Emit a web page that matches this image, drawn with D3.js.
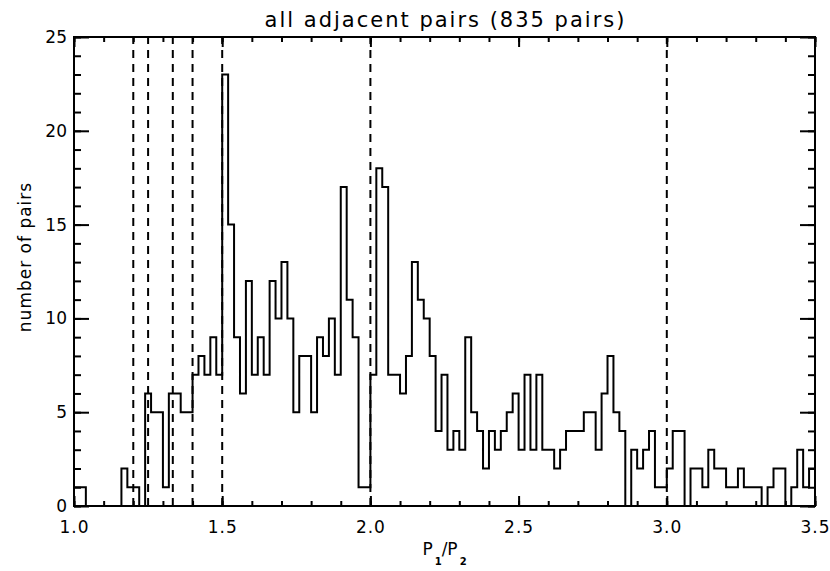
<!DOCTYPE html>
<html>
<head>
<meta charset="utf-8">
<script src="https://cdn.jsdelivr.net/npm/d3@7"></script>
<style>
  body { margin: 0; background: #fff; }
  text { font-family: "DejaVu Sans", sans-serif; fill: #000; }
</style>
</head>
<body>
<script>
// histogram of period ratios, bins of 0.02 starting at 1.0
var binStart = 1.0;
var binWidth = 0.02;
var counts = [
  1, 1, 0, 0, 0, 0, 0, 0, 2, 1, 1, 0, 6, 5, 5, 1, 6, 6, 5, 5, 7, 8, 7, 9, 7,
  23, 15, 9, 6, 12, 7, 9, 7, 12, 10, 13, 10, 5, 8, 8, 5, 9, 8, 10, 7, 17, 11, 9, 1, 1,
  7, 18, 17, 7, 7, 6, 8, 13, 11, 10, 8, 4, 7, 3, 4, 3, 9, 5, 4, 2, 4, 3, 4, 5, 6,
  3, 7, 3, 7, 3, 3, 2, 3, 4, 4, 4, 5, 5, 3, 6, 8, 5, 4, 0, 3, 2, 3, 4, 1, 1,
  2, 4, 4, 0, 2, 2, 1, 3, 2, 2, 1, 1, 2, 1, 1, 1, 0, 1, 2, 2, 0, 1, 3, 1, 2
];
// mean-motion resonances marked with dashed lines
var resonances = [6/5, 5/4, 4/3, 7/5, 3/2, 2, 3];
var xTicks = [1.0, 1.5, 2.0, 2.5, 3.0, 3.5];
var yTicks = [0, 5, 10, 15, 20, 25];

var w = 830, h = 571;
var pL = 74, pR = 815, pT = 37, pB = 506;

var svg = d3.select("body").append("svg")
  .attr("width", w)
  .attr("height", h);

var x = d3.scaleLinear().domain([1.0, 3.5]).range([pL, pR]);
var y = d3.scaleLinear().domain([0, 25]).range([pB, pT]);

var minorX = d3.range(10, 36).map(function(d) { return d / 10; });
var minorY = d3.range(0, 26);

function styleAxis(g) {
  g.select(".domain").remove();
  g.selectAll("line").attr("stroke", "#000").attr("stroke-width", 2);
  g.selectAll("text")
    .attr("font-size", "17px")
    .attr("font-family", "DejaVu Sans, sans-serif")
    .attr("fill", "#000");
}

// bottom
svg.append("g").attr("transform", "translate(0," + pB + ")")
  .call(d3.axisBottom(x).tickValues(minorX).tickSizeInner(-5).tickSizeOuter(0).tickFormat(""))
  .call(styleAxis);
var bx = svg.append("g").attr("transform", "translate(0," + pB + ")")
  .call(d3.axisBottom(x).tickValues(xTicks).tickSizeInner(-10).tickSizeOuter(0).tickPadding(15).tickFormat(d3.format(".1f")))
  .call(styleAxis);
bx.selectAll("text").attr("letter-spacing", "1px");
// top
svg.append("g").attr("transform", "translate(0," + pT + ")")
  .call(d3.axisTop(x).tickValues(minorX).tickSizeInner(-5).tickSizeOuter(0).tickFormat(""))
  .call(styleAxis);
svg.append("g").attr("transform", "translate(0," + pT + ")")
  .call(d3.axisTop(x).tickValues(xTicks).tickSizeInner(-10).tickSizeOuter(0).tickFormat(""))
  .call(styleAxis);
// left
svg.append("g").attr("transform", "translate(" + pL + ",0)")
  .call(d3.axisLeft(y).tickValues(minorY).tickSizeInner(-7).tickSizeOuter(0).tickFormat(""))
  .call(styleAxis);
svg.append("g").attr("transform", "translate(" + pL + ",0)")
  .call(d3.axisLeft(y).tickValues(yTicks).tickSizeInner(-15).tickSizeOuter(0).tickPadding(7))
  .call(styleAxis);
// right
svg.append("g").attr("transform", "translate(" + pR + ",0)")
  .call(d3.axisRight(y).tickValues(minorY).tickSizeInner(-7).tickSizeOuter(0).tickFormat(""))
  .call(styleAxis);
svg.append("g").attr("transform", "translate(" + pR + ",0)")
  .call(d3.axisRight(y).tickValues(yTicks).tickSizeInner(-15).tickSizeOuter(0).tickFormat(""))
  .call(styleAxis);

// frame
svg.append("rect")
  .attr("x", pL).attr("y", pT)
  .attr("width", pR - pL).attr("height", pB - pT)
  .attr("fill", "none").attr("stroke", "#000").attr("stroke-width", 2);

// dashed resonance lines
svg.selectAll("line.res")
  .data(resonances)
  .enter()
  .append("line")
  .attr("class", "res")
  .attr("x1", function(d) { return x(d); })
  .attr("x2", function(d) { return x(d); })
  .attr("y1", y(0))
  .attr("y2", y(25))
  .attr("stroke", "#000")
  .attr("stroke-width", 2)
  .attr("stroke-dasharray", "8,6");

// histogram steps
var pts = counts.map(function(c, i) { return [binStart + i * binWidth, c]; });
pts.push([binStart + counts.length * binWidth, counts[counts.length - 1]]);
var line = d3.line()
  .x(function(d) { return x(d[0]); })
  .y(function(d) { return y(d[1]); })
  .curve(d3.curveStepAfter);
svg.append("path")
  .datum([[binStart, 0]].concat(pts))
  .attr("d", line)
  .attr("fill", "none")
  .attr("stroke", "#000")
  .attr("stroke-width", 2);

// title
svg.append("text")
  .attr("x", (pL + pR) / 2 + 1)
  .attr("y", 27)
  .attr("text-anchor", "middle")
  .attr("font-size", "21px")
  .attr("letter-spacing", "2px")
  .text("all adjacent pairs (835 pairs)");

// y label
svg.append("text")
  .attr("transform", "translate(31,257) rotate(-90)")
  .attr("text-anchor", "middle")
  .attr("font-size", "17px")
  .attr("letter-spacing", "1px")
  .text("number of pairs");

// x label P1/P2
var xl = svg.append("text")
  .attr("x", (pL + pR) / 2)
  .attr("y", 555)
  .attr("text-anchor", "middle")
  .attr("font-size", "17px");
xl.append("tspan").text("P");
xl.append("tspan").attr("font-size", "10px").attr("font-weight", "bold").attr("dx", 2).attr("dy", 10).text("1");
xl.append("tspan").attr("dy", -10).text("/P");
xl.append("tspan").attr("font-size", "10px").attr("font-weight", "bold").attr("dx", 2).attr("dy", 10).text("2");
</script>
</body>
</html>
